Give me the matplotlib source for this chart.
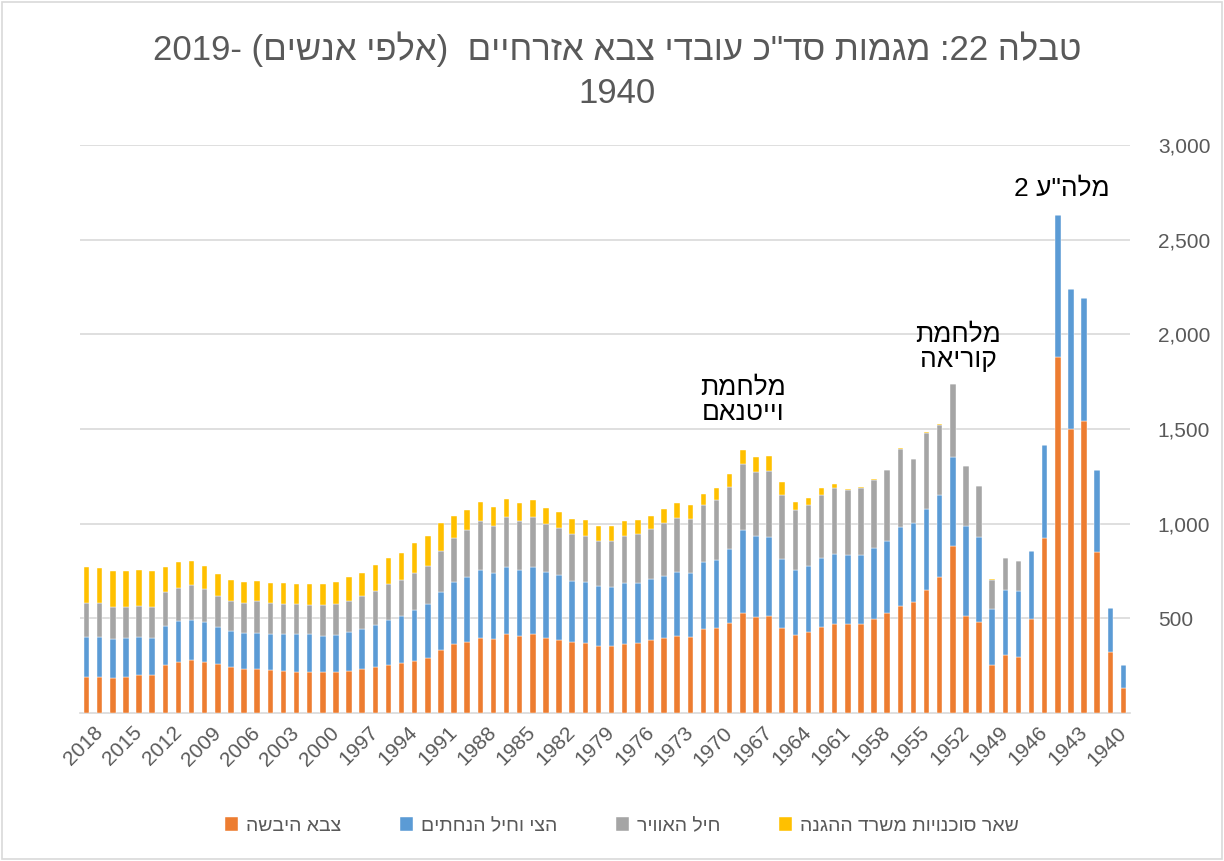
import matplotlib
matplotlib.use("Agg")
import matplotlib.pyplot as plt
from matplotlib.patches import Rectangle
from matplotlib.ticker import FuncFormatter
import numpy as np

plt.rcParams['font.family'] = ['Liberation Sans', 'DejaVu Sans']

# civilian employees, thousands, 2019 -> 1940
years = list(range(2019, 1939, -1))
army = [189, 189, 186, 191, 200, 203, 252, 270, 280, 272,
        259, 242, 233, 233, 228, 223, 219, 219, 215, 215,
        223, 233, 242, 256, 262, 274, 291, 331, 365, 375,
        398, 389, 418, 409, 419, 398, 388, 375, 368, 356,
        354, 367, 368, 386, 397, 407, 402, 444, 449, 476,
        526, 507, 512, 447, 412, 428, 455, 472, 470, 472,
        495, 528, 567, 588, 650, 716, 882, 513, 483, 256,
        308, 298, 499, 923, 1882, 1502, 1543, 850, 324, 133]
navy = [211, 211, 207, 204, 200, 192, 206, 214, 211, 207,
        197, 189, 188, 188, 188, 193, 197, 197, 194, 199,
        203, 209, 221, 237, 249, 271, 285, 308, 325, 341,
        357, 348, 351, 344, 352, 345, 339, 320, 322, 313,
        312, 318, 317, 322, 327, 336, 335, 351, 361, 388,
        440, 427, 415, 364, 341, 346, 362, 366, 362, 360,
        376, 380, 413, 418, 430, 433, 471, 477, 449, 292,
        340, 348, 359, 493, 748, 737, 651, 433, 228, 121]
air_force = [179, 179, 165, 167, 167, 167, 179, 178, 187, 174,
             164, 161, 162, 169, 163, 162, 162, 156, 160, 162,
             167, 174, 183, 186, 189, 196, 202, 214, 234, 252,
             260, 253, 264, 262, 264, 253, 250, 248, 245, 242,
             245, 250, 258, 264, 279, 287, 287, 301, 313, 331,
             350, 341, 352, 338, 319, 324, 337, 348, 347, 359,
             362, 375, 417, 335, 399, 373, 383, 312, 266, 156,
             171, 156, 0, 0, 0, 0, 0, 0, 0, 0]
other = [194, 189, 194, 190, 188, 190, 132, 135, 126, 123,
         114, 112, 107, 105, 108, 107, 103, 109, 112, 116,
         123, 125, 136, 140, 146, 157, 157, 152, 118, 102,
         100, 97, 98, 95, 91, 86, 86, 83, 82, 78,
         78, 79, 78, 70, 74, 77, 76, 62, 65, 67,
         74, 76, 77, 72, 40, 37, 32, 21, 3, 5,
         5, 3, 5, 3, 4, 3, 3, 3, 2, 2,
         0, 0, 0, 0, 0, 0, 0, 0, 0, 0]


def vis(s):
    # matplotlib has no bidi, so Hebrew runs are given in visual order
    return s[::-1]


series = [
    (army, '#ED7D31', vis('צבא היבשה')),
    (navy, '#5B9BD5', vis('הצי וחיל הנחתים')),
    (air_force, '#A5A5A5', vis('חיל האוויר')),
    (other, '#FFC000', vis('שאר סוכנויות משרד ההגנה')),
]

fig = plt.figure(figsize=(12.24, 8.61), dpi=100)
ax = fig.add_axes([80 / 1224, 1 - 713 / 861, 1050 / 1224, 568 / 861])

bottom = np.zeros(len(years))
for vals, col, lab in series:
    ax.bar(years, vals, width=0.42, bottom=bottom, color=col, label=lab,
           edgecolor='white', linewidth=0.3, zorder=3)
    bottom += np.array(vals)

ax.set_xlim(2019.5, 1939.5)
ax.set_ylim(0, 3000)
ax.set_yticks(range(500, 3001, 500))
ax.yaxis.tick_right()
ax.yaxis.set_major_formatter(FuncFormatter(lambda v, p: f'{int(v):,}'))
ax.grid(axis='y', color='#D9D9D9', linewidth=1.2, zorder=0)
for s in ['top', 'left', 'right']:
    ax.spines[s].set_visible(False)
ax.spines['bottom'].set_color('#D9D9D9')
ax.spines['bottom'].set_linewidth(1.2)

tick_years = list(range(1940, 2019, 3))
ax.set_xticks(tick_years)
ax.set_xticklabels([str(y) for y in tick_years], rotation=45, ha='right',
                   va='center', rotation_mode='anchor')
ax.tick_params(axis='x', length=0, pad=12, labelsize=15, labelcolor='#595959')
ax.tick_params(axis='y', length=0, pad=20, labelsize=15, labelcolor='#595959')

title = ("2019- (" + vis('אלפי אנשים') + ")  " +
         vis('מגמות סד"כ עובדי צבא אזרחיים') + " :22 " + vis('טבלה') +
         "\n1940")
fig.text(0.504, 0.918, title, ha='center', va='center', fontsize=25,
         color='#595959', linespacing=1.4, multialignment='center')

ax.text(1969, 1650, vis('מלחמת') + "\n" + vis('וייטנאם'), ha='center',
        va='center', fontsize=19, color='black', linespacing=1.05)
ax.text(1952.6, 1932, vis('מלחמת') + "\n" + vis('קוריאה'), ha='center',
        va='center', fontsize=19, color='black', linespacing=1.05)
ax.text(1944.7, 2766, "2 " + vis('מלה"ע'), ha='center', va='center',
        fontsize=19, color='black')

fig.legend(loc='center', bbox_to_anchor=(0.508, 1 - 826 / 861), ncol=4,
           frameon=False, fontsize=14, handlelength=0.7, handleheight=0.7,
           handletextpad=0.4, columnspacing=3.0, labelcolor='#595959')

fig.patches.append(Rectangle((0.002, 0.002), 0.996, 0.996,
                             transform=fig.transFigure, fill=False,
                             edgecolor='#D9D9D9', linewidth=1.2))

fig.savefig('out.png', dpi=100)
